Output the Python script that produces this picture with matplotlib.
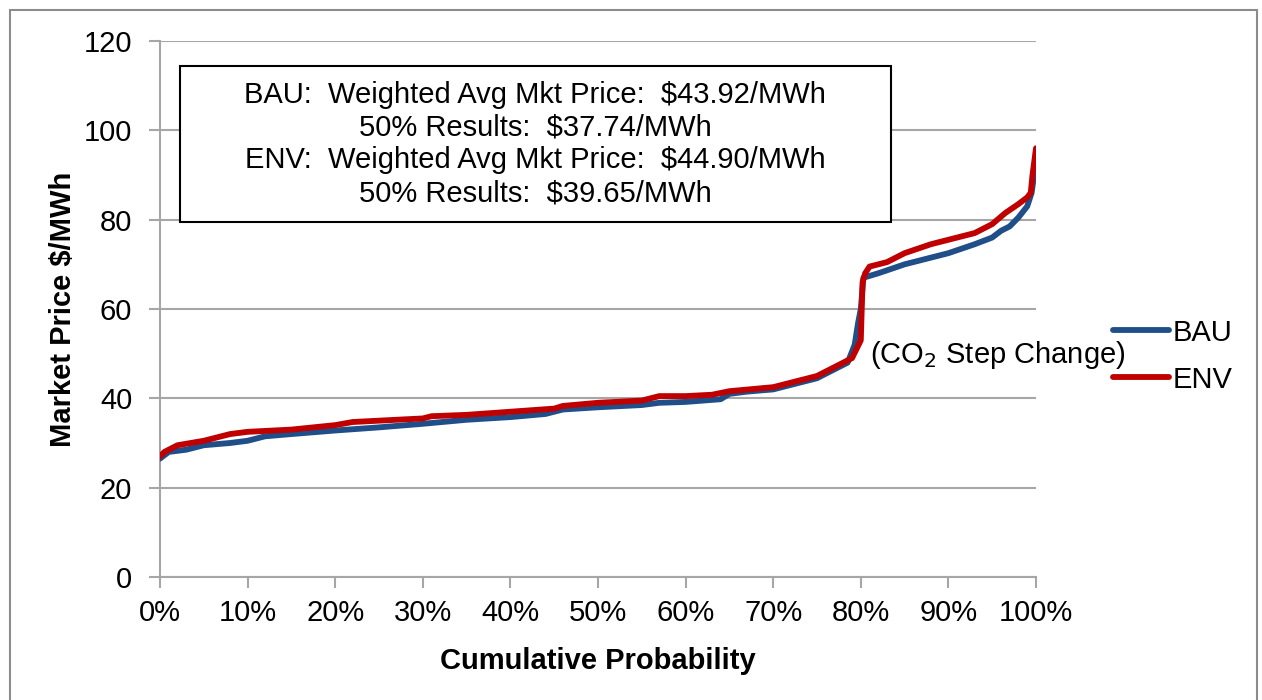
import matplotlib
matplotlib.use("Agg")
import matplotlib.pyplot as plt
from matplotlib.patches import Rectangle
from matplotlib.ticker import PercentFormatter

plt.rcParams['font.family'] = ['Liberation Sans', 'DejaVu Sans']

# Cumulative probability (fraction) and market price ($/MWh) for each case
bau_prob = [0.0, 0.01, 0.03, 0.05, 0.08, 0.10, 0.12, 0.15, 0.20, 0.25, 0.30, 0.35,
            0.40, 0.44, 0.46, 0.50, 0.55, 0.57, 0.60, 0.64, 0.65, 0.67, 0.70, 0.72,
            0.75, 0.77, 0.785, 0.793, 0.797, 0.800, 0.803, 0.82, 0.85, 0.88, 0.90,
            0.93, 0.95, 0.96, 0.97, 0.98, 0.99, 0.995, 1.0]
bau_price = [26.5, 28.0, 28.5, 29.5, 30.0, 30.5, 31.5, 32.0, 32.8, 33.5, 34.3, 35.2,
             35.8, 36.5, 37.5, 38.0, 38.5, 39.0, 39.2, 39.8, 41.0, 41.5, 42.0, 43.0,
             44.5, 46.5, 48.0, 52.0, 57.0, 60.0, 67.0, 68.0, 70.0, 71.5, 72.5,
             74.5, 76.0, 77.5, 78.5, 80.5, 83.0, 86.0, 93.0]

env_prob = [0.0, 0.005, 0.02, 0.05, 0.08, 0.10, 0.15, 0.20, 0.22, 0.25, 0.30, 0.31,
            0.35, 0.40, 0.45, 0.46, 0.50, 0.55, 0.57, 0.60, 0.63, 0.65, 0.70, 0.72,
            0.75, 0.77, 0.79, 0.795, 0.800, 0.802, 0.805, 0.81, 0.83, 0.85, 0.88,
            0.90, 0.93, 0.95, 0.965, 0.98, 0.99, 0.994, 0.996, 1.0]
env_price = [27.0, 28.0, 29.5, 30.5, 32.0, 32.5, 33.0, 34.0, 34.7, 35.0, 35.5, 36.0,
             36.3, 37.0, 37.7, 38.3, 39.0, 39.5, 40.5, 40.5, 40.8, 41.6, 42.5, 43.5,
             45.0, 47.0, 49.0, 51.0, 53.0, 66.0, 68.0, 69.5, 70.5, 72.5, 74.5,
             75.5, 77.0, 79.0, 81.5, 83.5, 85.0, 86.0, 90.0, 96.0]

summary_lines = [
    "BAU:  Weighted Avg Mkt Price:  $43.92/MWh",
    "50% Results:  $37.74/MWh",
    "ENV:  Weighted Avg Mkt Price:  $44.90/MWh",
    "50% Results:  $39.65/MWh",
]

FS = 21
W, H = 1262, 700

fig = plt.figure(figsize=(W / 100, H / 100), dpi=100)
# outer chart frame (runs off the lower edge)
fig.patches.append(Rectangle((10 / W, -0.05), 1247 / W, (H - 10) / H + 0.05,
                             transform=fig.transFigure, fill=False,
                             edgecolor='#8c8c8c', linewidth=1.5))

ax = fig.add_axes([160 / W, 1 - 577 / H, 876 / W, 536 / H])
ax.plot(bau_prob, bau_price, color='#1F4E89', linewidth=4.2, label='BAU',
        solid_capstyle='round', solid_joinstyle='round', zorder=3)
ax.plot(env_prob, env_price, color='#C00000', linewidth=4.2, label='ENV',
        solid_capstyle='round', solid_joinstyle='round', zorder=4)

ax.set_xlim(0, 1)
ax.set_ylim(0, 120)
ax.set_xticks([i / 10 for i in range(11)])
ax.set_yticks(range(0, 121, 20))
ax.xaxis.set_major_formatter(PercentFormatter(1.0, decimals=0))
ax.grid(axis='y', color='#a6a6a6', linewidth=1.5)
ax.set_axisbelow(True)
for side in ('top', 'right'):
    ax.spines[side].set_visible(False)
for side in ('left', 'bottom'):
    ax.spines[side].set_color('#a6a6a6')
    ax.spines[side].set_linewidth(1.5)
ax.tick_params(axis='both', direction='out', length=8, width=1.5,
               color='#a6a6a6', labelsize=FS)
ax.tick_params(axis='y', pad=12)
ax.tick_params(axis='x', pad=8)

ax.set_xlabel('Cumulative Probability', fontsize=FS, fontweight='bold', labelpad=14)
ax.set_ylabel('Market Price $/MWh', fontsize=FS, fontweight='bold', labelpad=5)

# summary box
box = Rectangle((180 / W, 1 - 222 / H), 711 / W, 156 / H,
                transform=fig.transFigure, facecolor='white',
                edgecolor='black', linewidth=1.5, zorder=5)
fig.patches.append(box)
ys = [95, 128, 160, 193]
for txt, yp in zip(summary_lines, ys):
    fig.text(535 / W, 1 - yp / H, txt, ha='center', va='center',
             fontsize=FS, zorder=6)

ax.text(0.8105, 49.7, '(CO$_2$ Step Change)', fontsize=FS, ha='left', va='center',
        zorder=6)

ax.legend(loc='center left', bbox_to_anchor=(1.088, 0.412), frameon=False,
          fontsize=FS, handlelength=1.9, handletextpad=0.15, labelspacing=0.65,
          borderaxespad=0, borderpad=0)

fig.savefig('out.png', dpi=100)
